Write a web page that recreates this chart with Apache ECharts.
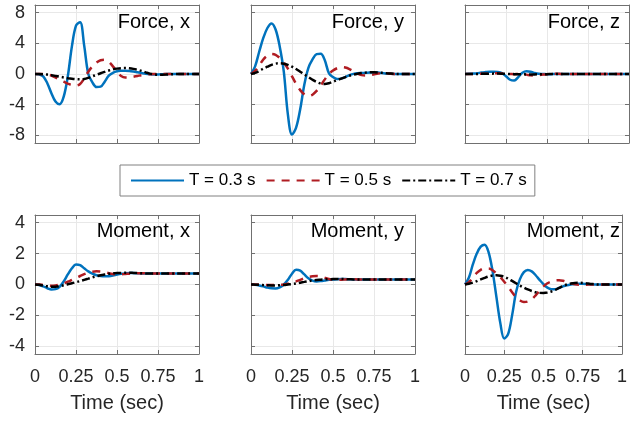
<!DOCTYPE html>
<html>
<head>
<meta charset="utf-8">
<title>Forces and moments</title>
<script src="https://cdn.jsdelivr.net/npm/echarts@6/dist/echarts.min.js"></script>
<style>
html,body{margin:0;padding:0;background:#fff;}
#chart{width:630px;height:424px;}
</style>
</head>
<body>
<div id="chart"></div>
<script>
// time grid (sec)
var time=[0,0.025,0.05,0.075,0.1,0.125,0.15,0.175,0.2,0.225,
	0.25,0.275,0.3,0.325,0.35,0.375,0.4,0.425,0.45,0.475,
	0.5,0.525,0.55,0.575,0.6,0.625,0.65,0.675,0.7,0.725,
	0.75,0.775,0.8,0.825,0.85,0.875,0.9,0.925,0.95,0.975,1];

// Force, x
var fx_03=[0,-0.05,-0.3,-1.2,-2.5,-3.6,-3.95,-2.95,-0.3,3.6,
	6.3,6.75,3.7,0,-1.1,-1.7,-1.65,-1.0,-0.2,0.15,
	0.35,0.42,0.44,0.4,0.32,0.22,0.12,0.03,-0.03,-0.05,
	-0.05,-0.03,0,0,0,0,0,0,0,0,0];
var fx_05=[0,0,0,-0.05,-0.2,-0.45,-0.75,-1.0,-1.25,-1.45,
	-1.5,-1.3,-0.6,0.3,1.0,1.5,1.8,1.85,1.6,1.0,
	0.3,-0.25,-0.45,-0.45,-0.35,-0.25,-0.15,-0.08,-0.03,0,
	0.01,0.01,0,0,0,0,0,0,0,0,0];
var fx_07=[0,0,-0.03,-0.08,-0.15,-0.25,-0.35,-0.45,-0.55,-0.63,
	-0.68,-0.7,-0.65,-0.5,-0.3,-0.1,0.1,0.28,0.45,0.6,
	0.7,0.76,0.78,0.75,0.67,0.55,0.4,0.22,0.05,-0.05,
	-0.1,-0.1,-0.08,-0.04,-0.01,0,0,0,0,0,0];

// Force, y
var fy_03=[0,1.0,2.9,4.7,6.0,6.6,5.8,3.6,0.3,-5.3,
	-7.9,-7.0,-4.6,-1.4,0.8,1.9,2.6,2.65,1.8,0.1,
	-0.4,-0.65,-0.6,-0.4,-0.15,0.02,0.1,0.12,0.15,0.18,
	0.2,0.18,0.12,0.06,0.02,0,0,0,0,0,0];
var fy_05=[0,0.4,1.1,1.9,2.4,2.6,2.5,2.1,1.5,0.7,
	-0.3,-1.3,-2.1,-2.65,-2.85,-2.7,-2.2,-1.5,-0.7,0,
	0.45,0.75,0.9,0.85,0.65,0.35,0.05,-0.15,-0.2,-0.15,
	-0.05,0.05,0.1,0.08,0.03,0,0,0,0,0,0];
var fy_07=[0,0.15,0.4,0.7,0.95,1.2,1.35,1.4,1.35,1.2,
	0.95,0.65,0.3,-0.05,-0.4,-0.75,-1.05,-1.25,-1.3,-1.2,
	-1.0,-0.8,-0.6,-0.4,-0.22,-0.08,0.03,0.12,0.18,0.22,
	0.22,0.2,0.15,0.1,0.05,0.02,0,0,0,0,0];

// Force, z
var fz_03=[0,0.02,0.05,0.1,0.2,0.25,0.28,0.28,0.25,0.1,
	-0.3,-0.75,-0.85,-0.4,0.15,0.35,0.3,0.12,0.02,0,
	-0.03,-0.02,0,0,0,0,0,0,0,0,
	0,0,0,0,0,0,0,0,0,0,0];
var fz_05=[0,0,0,0.02,0.03,0.04,0.05,0.08,0.1,0.08,
	0.02,0,-0.02,0,0,-0.08,-0.18,-0.2,-0.15,-0.08,
	-0.02,0.02,0.03,0.02,0,0,0,0,0,0,
	0,0,0,0,0,0,0,0,0,0,0];
var fz_07=[0,0,0,0.01,0.02,0.03,0.04,0.05,0.05,0.04,
	0.02,0,-0.02,-0.03,-0.04,-0.05,-0.05,-0.05,-0.04,-0.03,
	-0.02,-0.01,0,0,0,0,0,0,0,0,
	0,0,0,0,0,0,0,0,0,0,0];

// Moment, x
var mx_03=[0,-0.03,-0.12,-0.24,-0.32,-0.3,-0.15,0.2,0.65,1.05,
	1.3,1.25,1.05,0.85,0.7,0.6,0.55,0.53,0.54,0.58,
	0.64,0.69,0.72,0.74,0.74,0.73,0.72,0.72,0.72,0.72,
	0.72,0.72,0.72,0.72,0.72,0.72,0.72,0.72,0.72,0.72,0.72];
var mx_05=[0,0,-0.03,-0.06,-0.08,-0.06,0,0.08,0.18,0.3,
	0.42,0.55,0.67,0.77,0.83,0.85,0.84,0.8,0.73,0.68,
	0.66,0.66,0.68,0.7,0.72,0.73,0.73,0.72,0.72,0.72,
	0.72,0.72,0.72,0.72,0.72,0.72,0.72,0.72,0.72,0.72,0.72];
var mx_07=[0,-0.02,-0.07,-0.12,-0.15,-0.14,-0.1,-0.05,0.02,0.08,
	0.15,0.22,0.3,0.38,0.46,0.53,0.6,0.65,0.69,0.72,
	0.74,0.75,0.76,0.76,0.75,0.74,0.73,0.72,0.72,0.72,
	0.72,0.72,0.72,0.72,0.72,0.72,0.72,0.72,0.72,0.72,0.72];

// Moment, y
var my_03=[0,-0.02,-0.06,-0.12,-0.2,-0.25,-0.26,-0.18,0,0.3,
	0.7,0.95,0.9,0.65,0.4,0.25,0.2,0.22,0.26,0.3,
	0.32,0.34,0.35,0.35,0.34,0.33,0.33,0.33,0.33,0.33,
	0.33,0.33,0.33,0.33,0.33,0.33,0.33,0.33,0.33,0.33,0.33];
var my_05=[0,0,-0.01,-0.02,-0.03,-0.03,-0.03,-0.02,0,0.05,
	0.12,0.2,0.3,0.4,0.48,0.53,0.55,0.52,0.44,0.36,
	0.31,0.3,0.31,0.33,0.34,0.34,0.33,0.33,0.33,0.33,
	0.33,0.33,0.33,0.33,0.33,0.33,0.33,0.33,0.33,0.33,0.33];
var my_07=[0,-0.01,-0.02,-0.04,-0.05,-0.06,-0.06,-0.05,-0.03,0,
	0.03,0.07,0.12,0.17,0.22,0.26,0.29,0.31,0.33,0.34,
	0.35,0.36,0.36,0.35,0.34,0.33,0.33,0.33,0.33,0.33,
	0.33,0.33,0.33,0.33,0.33,0.33,0.33,0.33,0.33,0.33,0.33];

// Moment, z
var mz_03=[0,0.45,1.3,2.0,2.45,2.58,2.1,0.9,-0.8,-2.5,
	-3.5,-3.2,-2.0,-0.5,0.35,0.8,0.94,0.85,0.6,0.3,
	0.02,-0.2,-0.3,-0.3,-0.22,-0.12,-0.05,0,0.04,0.05,
	0.05,0.03,0.01,0,0,0,0,0,0,0,0];
var mz_05=[0,0.15,0.45,0.75,0.95,1.04,1.04,0.92,0.72,0.47,
	0.18,-0.15,-0.5,-0.82,-1.03,-1.13,-1.1,-0.95,-0.7,-0.4,
	-0.12,0.08,0.2,0.27,0.28,0.24,0.16,0.08,0.02,-0.01,
	-0.02,-0.01,0,0,0,0,0,0,0,0,0];
var mz_07=[0,0.05,0.12,0.22,0.33,0.43,0.52,0.58,0.6,0.57,
	0.5,0.38,0.23,0.08,-0.07,-0.2,-0.32,-0.42,-0.5,-0.54,
	-0.55,-0.52,-0.45,-0.35,-0.22,-0.1,0,0.06,0.1,0.11,
	0.1,0.07,0.04,0.02,0,0,0,0,0,0,0];

var panelTitles=['Force, x','Force, y','Force, z','Moment, x','Moment, y','Moment, z'];
var panelData=[
	[fx_03,fx_05,fx_07],[fy_03,fy_05,fy_07],[fz_03,fz_05,fz_07],
	[mx_03,mx_05,mx_07],[my_03,my_05,my_07],[mz_03,mz_05,mz_07]
];
var seriesNames=['T = 0.3 s','T = 0.5 s','T = 0.7 s'];
var forceTicks=[-8,-4,0,4,8];
var momentTicks=[-4,-2,0,2,4];

var colors=['#0072BD','#B01C22','#000000'];
var dashes=['solid',[8,7],[8,3,2,3]];
var lefts=[35,251,465],tops=[5,215],heights=[138,139];
var boxColor='#707070',gridColor='#e8e8e8',txt='#262626';

var grids=[],xAxes=[],yAxes=[],series=[],titles=[];
for(var i=0;i<6;i++){
	var row=i<3?0:1,col=i%3;
	var ticks=row==0?forceTicks:momentTicks;
	var lim=row==0?9:4.5;
	grids.push({left:lefts[col],top:tops[row],width:164,height:heights[row],show:false});
	// bottom + top x axes
	xAxes.push({
		type:'value',gridIndex:i,min:0,max:1,interval:0.25,
		axisLine:{show:true,onZero:false,lineStyle:{color:boxColor,width:1}},
		axisTick:{show:true,inside:true,length:4,lineStyle:{color:boxColor}},
		axisLabel:{show:row==1,fontSize:18,color:txt,margin:14},
		splitLine:{show:true,lineStyle:{color:gridColor,width:1}},
		name:row==1?'Time (sec)':'',nameLocation:'middle',nameGap:39,
		nameTextStyle:{fontSize:20,color:txt}
	});
	xAxes.push({
		type:'value',gridIndex:i,min:0,max:1,interval:0.25,position:'top',
		axisLine:{show:true,onZero:false,lineStyle:{color:boxColor,width:1}},
		axisTick:{show:true,inside:true,length:4,lineStyle:{color:boxColor}},
		axisLabel:{show:false},splitLine:{show:false}
	});
	// left + right y axes
	yAxes.push({
		type:'value',gridIndex:i,min:-lim,max:lim,
		axisLine:{show:true,onZero:false,lineStyle:{color:boxColor,width:1}},
		axisTick:{show:true,inside:true,length:4,customValues:ticks,lineStyle:{color:boxColor}},
		axisLabel:{show:col==0,customValues:ticks,fontSize:18,color:txt,margin:10},
		splitLine:{show:true,lineStyle:{color:gridColor,width:1}}
	});
	yAxes.push({
		type:'value',gridIndex:i,min:-lim,max:lim,position:'right',
		axisLine:{show:true,onZero:false,lineStyle:{color:boxColor,width:1}},
		axisTick:{show:true,inside:true,length:4,customValues:ticks,lineStyle:{color:boxColor}},
		axisLabel:{show:false},splitLine:{show:false}
	});
	for(var s=0;s<3;s++){
		var arr=panelData[i][s];
		series.push({
			name:seriesNames[s],type:'line',xAxisIndex:2*i,yAxisIndex:2*i,
			data:time.map(function(t,k){return [t,arr[k]];}),
			showSymbol:false,symbol:'none',smooth:0.35,
			lineStyle:{color:colors[s],width:2.5,type:dashes[s]},
			itemStyle:{color:colors[s]},
			animation:false
		});
	}
	titles.push({
		text:panelTitles[i],right:[440,226,10][col],top:row==0?12:221,padding:0,
		textStyle:{fontSize:20,fontWeight:'normal',color:'#000'}
	});
}

var mychart=echarts.init(document.getElementById('chart'));
mychart.setOption({
	animation:false,
	textStyle:{fontFamily:'Liberation Sans, Arial, sans-serif'},
	title:titles,
	legend:{
		data:seriesNames,left:120,top:165,orient:'horizontal',
		itemWidth:53,itemHeight:14,itemGap:10,padding:[7,8,7,10],
		borderColor:'#808080',borderWidth:1,
		itemStyle:{opacity:0},
		textStyle:{fontSize:17,color:'#000'}
	},
	grid:grids,
	xAxis:xAxes,
	yAxis:yAxes,
	series:series
});
</script>
</body>
</html>
